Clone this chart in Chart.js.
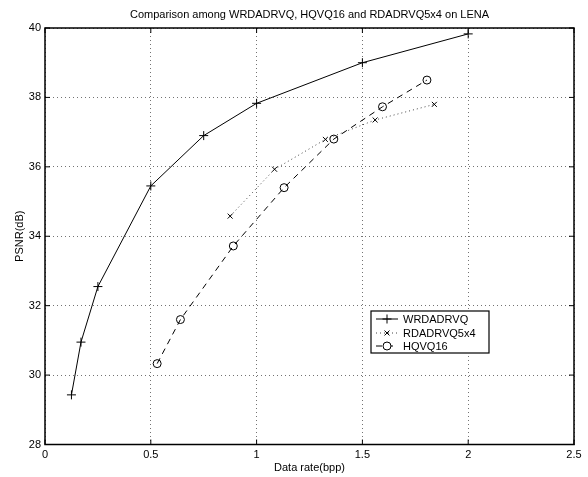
<!DOCTYPE html>
<html>
<head>
<meta charset="utf-8">
<script src="https://cdn.jsdelivr.net/npm/chart.js@4.4.0/dist/chart.umd.min.js"></script>
<style>
  html, body { margin: 0; padding: 0; background: #fff; }
</style>
</head>
<body>
<canvas id="graphique" width="588" height="477"></canvas>
<script>
const titre = "Comparison among WRDADRVQ, HQVQ16 and RDADRVQ5x4 on LENA";
const nomsSeries = ["WRDADRVQ", "RDADRVQ5x4", "HQVQ16"];

const wrdX = [0.125, 0.17, 0.25, 0.5, 0.75, 1.0, 1.5, 2.0];
const wrdY = [29.43, 30.95, 32.55, 35.45, 36.9, 37.83, 39.0, 39.83];
const rdaX = [0.875, 1.085, 1.325, 1.56, 1.84];
const rdaY = [34.58, 35.93, 36.79, 37.35, 37.8];
const hqX = [0.53, 0.64, 0.89, 1.13, 1.365, 1.595, 1.805];
const hqY = [30.33, 31.6, 33.72, 35.4, 36.8, 37.73, 38.5];

const ticksX = [0, 0.5, 1, 1.5, 2, 2.5];
const ticksY = [28, 30, 32, 34, 36, 38, 40];

const police = "'Liberation Sans', Arial, sans-serif";

function points(xs, ys) {
  return xs.map(function(x, i) { return { x: x, y: ys[i] }; });
}

// cadre noir + petites graduations vers l'intérieur (style MATLAB), titre centré sur les axes
const cadre = {
  id: "cadre",
  afterDatasetsDraw(chart) {
    const ctx = chart.ctx;
    const a = chart.chartArea;
    const sx = chart.scales.x, sy = chart.scales.y;
    ctx.save();
    ctx.strokeStyle = "#000";
    ctx.lineWidth = 1;
    ctx.beginPath();
    ticksX.forEach(function(v) {
      const p = sx.getPixelForValue(v);
      ctx.moveTo(p, a.bottom); ctx.lineTo(p, a.bottom - 5);
      ctx.moveTo(p, a.top); ctx.lineTo(p, a.top + 5);
    });
    ticksY.forEach(function(v) {
      const p = sy.getPixelForValue(v);
      ctx.moveTo(a.left, p); ctx.lineTo(a.left + 5, p);
      ctx.moveTo(a.right, p); ctx.lineTo(a.right - 5, p);
    });
    ctx.stroke();
    ctx.lineWidth = 1.5;
    ctx.strokeRect(a.left, a.top, a.right - a.left, a.bottom - a.top);
    ctx.fillStyle = "#000";
    ctx.font = "11px " + police;
    ctx.textAlign = "center";
    ctx.textBaseline = "middle";
    ctx.fillText(titre, (a.left + a.right) / 2, 15);
    ctx.restore();
  },
  afterDraw(chart) {
    const ctx = chart.ctx;
    const x0 = 371, y0 = 311, l = 118, h = 42;
    ctx.save();
    ctx.fillStyle = "#fff";
    ctx.fillRect(x0, y0, l, h);
    ctx.strokeStyle = "#000";
    ctx.lineWidth = 1.2;
    ctx.strokeRect(x0, y0, l, h);
    const lignes = [319, 333, 346];
    chart.data.datasets.forEach(function(ds, i) {
      const y = lignes[i];
      ctx.strokeStyle = ds.borderColor;
      ctx.lineWidth = 1;
      ctx.setLineDash(ds.borderDash || []);
      ctx.beginPath();
      ctx.moveTo(376, y); ctx.lineTo(398, y);
      ctx.stroke();
      ctx.setLineDash([]);
      ctx.strokeStyle = "#000";
      ctx.fillStyle = "#fff";
      Chart.helpers.drawPoint(ctx, {
        pointStyle: ds.pointStyle, radius: ds.pointRadius, borderWidth: 1
      }, 387, y);
      ctx.fillStyle = "#000";
      ctx.font = "11px " + police;
      ctx.textBaseline = "middle";
      ctx.textAlign = "left";
      ctx.fillText(ds.label, 403, y + 0.5);
    });
    ctx.restore();
  }
};

function etiquette(v) { return String(v); }

new Chart(document.getElementById("graphique").getContext("2d"), {
  type: "scatter",
  data: {
    datasets: [{
      label: nomsSeries[0],
      data: points(wrdX, wrdY),
      showLine: true,
      borderColor: "#000",
      borderWidth: 1,
      pointStyle: "cross",
      pointRadius: 4.5,
      pointBorderColor: "#000",
      pointBorderWidth: 1
    }, {
      label: nomsSeries[1],
      data: points(rdaX, rdaY),
      showLine: true,
      borderColor: "#444",
      borderWidth: 1,
      borderDash: [1, 3],
      pointStyle: "crossRot",
      pointRadius: 3.5,
      pointBorderColor: "#000",
      pointBorderWidth: 1
    }, {
      label: nomsSeries[2],
      data: points(hqX, hqY),
      showLine: true,
      borderColor: "#000",
      borderWidth: 1,
      borderDash: [6, 5],
      pointStyle: "circle",
      pointRadius: 4,
      pointBackgroundColor: "rgba(0,0,0,0)",
      pointBorderColor: "#000",
      pointBorderWidth: 1
    }]
  },
  options: {
    responsive: false,
    animation: false,
    layout: { padding: { left: 0, right: 14, top: 28, bottom: 0 } },
    plugins: {
      legend: { display: false },
      tooltip: { enabled: false },
      title: { display: false }
    },
    scales: {
      x: {
        type: "linear",
        min: 0, max: 2.5,
        afterBuildTicks: function(s) { s.ticks = ticksX.map(function(v) { return { value: v }; }); },
        afterFit: function(s) { s.height = 32.5; },
        grid: { color: "rgba(0,0,0,0.55)", drawTicks: false, lineWidth: 1 },
        border: { display: false, dash: [1, 3] },
        ticks: { color: "#000", padding: 4, font: { family: police, size: 11 }, callback: etiquette },
        title: { display: true, text: "Data rate(bpp)", color: "#000", font: { family: police, size: 11 }, padding: { top: 0, bottom: 2 } }
      },
      y: {
        type: "linear",
        min: 28, max: 40,
        afterBuildTicks: function(s) { s.ticks = ticksY.map(function(v) { return { value: v }; }); },
        afterFit: function(s) { s.width = 45; },
        grid: { color: "rgba(0,0,0,0.55)", drawTicks: false, lineWidth: 1 },
        border: { display: false, dash: [1, 3] },
        ticks: { color: "#000", padding: 4, font: { family: police, size: 11 }, callback: etiquette },
        title: { display: true, text: "PSNR(dB)", color: "#000", font: { family: police, size: 11 }, padding: { top: 13, bottom: 0 } }
      }
    }
  },
  plugins: [cadre]
});
</script>
</body>
</html>
